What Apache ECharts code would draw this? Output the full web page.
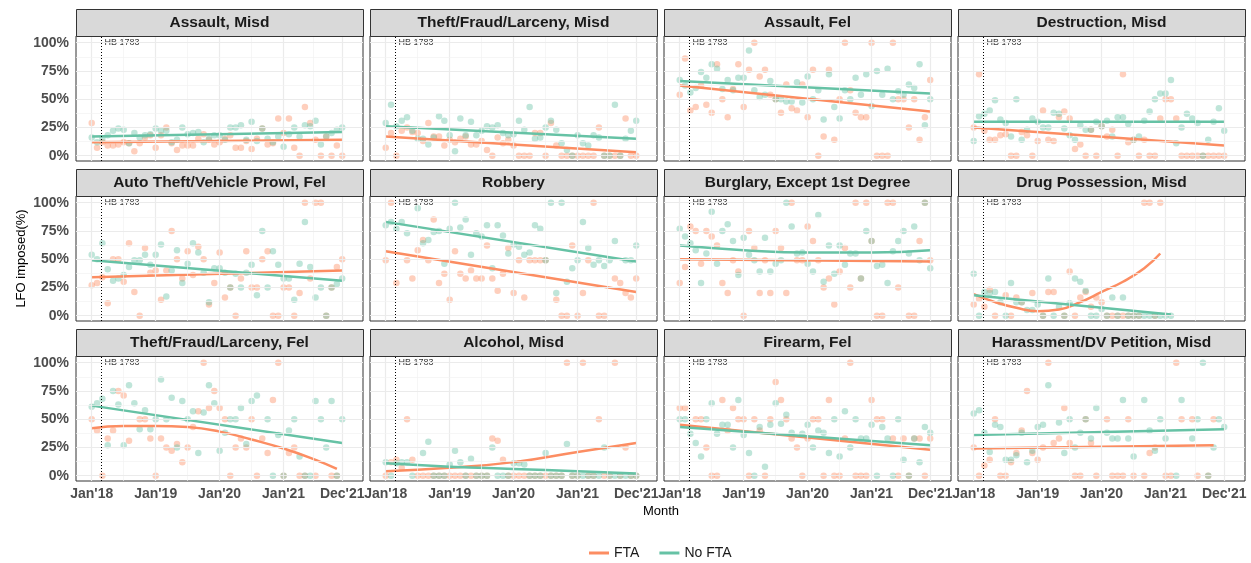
<!DOCTYPE html>
<html>
<head>
<meta charset="utf-8">
<script src="https://cdn.jsdelivr.net/npm/echarts@6/dist/echarts.min.js"></script>
<style>
  html, body { margin: 0; padding: 0; background: #fff; }
  #chart { width: 1251px; height: 563px; }
</style>
</head>
<body>
<div id="chart"></div>
<script>
// months are counted from Jan'18 (0) to Dec'21 (47)
var tickMonths = [0, 12, 24, 36, 47]
var tickLabels = ["Jan'18", "Jan'19", "Jan'20", "Jan'21", "Dec'21"]
var minorMonths = [6, 18, 30, 41.5]
var yTicks = [0, 25, 50, 75, 100]
var yMinor = [12.5, 37.5, 62.5, 87.5]
var hbMonth = 1.85

var panelTitles = ['Assault, Misd', 'Theft/Fraud/Larceny, Misd', 'Assault, Fel', 'Destruction, Misd',
  'Auto Theft/Vehicle Prowl, Fel', 'Robbery', 'Burglary, Except 1st Degree', 'Drug Possession, Misd',
  'Theft/Fraud/Larceny, Fel', 'Alcohol, Misd', 'Firearm, Fel', 'Harassment/DV Petition, Misd']

// monthly LFO share (%), null = no cases that month
var assaultMisdFta = [29,7,12,9,9,10,12,11,4,11,16,18,7,18,25,11,5,9,9,9,15,19,14,10,12,15,18,7,7,13,6,15,24,10,11,33,20,33,7,0,43,29,14,0,17,0,9,0]
var assaultMisdNoFta = [16,12,15,18,22,24,23,11,20,16,18,19,24,22,22,12,14,25,19,20,21,12,15,18,18,14,25,25,27,14,30,13,24,15,12,17,8,19,25,17,27,26,31,10,17,20,23,25]
var theftMisdFta = [7,20,0,22,25,21,20,13,29,17,17,9,14,12,15,17,10,10,13,5,0,16,11,14,9,0,0,0,20,20,0,29,9,0,0,0,0,0,0,0,25,0,0,0,0,33,0,0]
var theftMisdNoFta = [29,45,26,31,34,22,15,15,10,16,35,31,18,4,33,18,30,18,22,26,25,27,20,18,19,31,23,43,15,16,25,31,23,11,5,0,18,11,9,18,16,0,0,45,0,15,22,31]
var assaultFelFta = [54,86,40,43,62,45,38,81,50,34,59,81,43,76,100,70,76,54,50,38,63,42,40,63,34,76,0,17,76,14,50,100,58,38,34,34,100,0,0,0,100,50,50,25,50,14,34,67]
var assaultFelNoFta = [67,62,56,60,74,69,81,77,59,67,58,69,69,93,58,52,54,66,50,50,48,48,65,47,70,50,58,32,72,43,33,58,50,69,54,72,44,75,54,77,50,57,54,63,60,81,27,50]
var destructionFta = [25,72,22,14,14,18,19,0,0,21,18,0,13,40,14,13,34,39,33,6,10,0,23,0,26,17,23,0,72,12,14,0,14,0,0,33,50,50,33,0,0,0,0,0,0,0,0,0]
var destructionNoFta = [13,35,37,40,49,32,29,17,50,14,23,33,30,25,25,38,37,24,18,14,27,23,23,30,26,31,17,34,34,28,14,17,31,39,50,55,55,67,11,25,37,33,29,0,14,30,42,22]
var autoTheftFta = [27,29,34,11,50,50,30,64,21,0,60,38,40,14,40,75,50,33,57,36,61,50,10,29,56,16,25,0,33,57,25,25,50,57,0,0,25,25,0,20,100,33,100,100,0,25,43,50]
var autoTheftNoFta = [54,50,64,41,31,33,36,43,49,49,54,45,54,63,17,40,58,29,46,64,56,38,12,42,42,38,25,37,25,38,45,18,75,25,57,45,33,33,14,46,83,43,16,25,0,25,28,33]
var robberyFta = [49,100,29,null,49,33,58,67,49,85,29,37,14,57,37,33,40,33,33,62,33,22,37,60,20,49,16,49,49,49,49,null,14,0,0,62,0,20,49,100,0,0,null,33,29,20,16,33]
var robberyNoFta = [80,83,77,83,73,null,95,64,67,74,75,46,77,100,78,85,54,73,70,80,42,80,71,55,63,61,54,56,80,77,49,100,20,100,30,42,49,83,60,45,49,44,49,66,null,49,49,62]
var burglaryFta = [29,43,79,75,46,75,70,62,29,20,49,39,0,75,60,20,49,20,75,60,20,100,49,49,79,66,49,25,33,10,39,60,25,100,33,100,66,0,0,100,100,25,null,0,0,66,100,49]
var burglaryNoFta = [77,70,64,58,29,55,92,46,75,81,66,36,69,54,49,39,69,39,46,49,100,79,55,56,46,39,89,30,62,37,62,45,55,55,33,75,66,44,45,29,57,66,75,55,79,49,100,42]
var drugFta = [10,15,8,23,0,null,18,0,16,12,null,20,null,0,21,21,null,0,39,0,16,21,8,16,12,0,0,0,0,0,0,0,100,100,0,100,null,null,null,null,null,null,null,null,null,null,null,null]
var drugNoFta = [37,0,21,20,21,12,0,29,12,12,5,5,10,0,33,0,8,0,11,33,30,22,0,0,6,0,16,0,16,0,0,0,0,0,0,0,0,0,null,null,null,null,null,null,null,null,null,null]
var theftFelFta = [50,40,0,33,40,75,71,31,null,50,50,33,0,33,25,22,28,12,25,43,57,100,60,75,60,50,0,25,33,25,50,0,33,20,67,100,0,20,25,0,0,null,0,null,null,0,0,null]
var theftFelNoFta = [61,64,68,27,75,63,27,80,64,41,58,41,50,85,50,69,25,66,50,57,20,56,80,64,22,38,50,50,60,28,66,71,null,50,0,36,0,40,50,17,0,0,66,50,25,66,0,50]
var alcoholFta = [0,12,14,7,50,14,0,0,0,0,0,0,0,0,0,0,0,0,0,0,33,31,14,0,0,0,0,0,0,0,0,0,0,0,100,0,0,100,0,0,50,0,0,100,0,25,0,0]
var alcoholNoFta = [12,0,11,12,12,0,null,20,30,0,0,0,10,22,12,0,15,0,0,0,25,0,0,0,11,11,10,0,0,0,20,0,0,0,28,0,0,0,0,0,0,25,0,0,0,0,0,0]
var firearmFta = [60,60,null,50,50,25,0,0,67,40,60,50,50,0,50,40,0,50,83,67,50,33,25,0,33,50,50,0,67,0,0,33,100,0,0,0,67,50,50,null,33,0,33,0,33,33,0,33]
var firearmNoFta = [50,50,37,29,17,50,64,37,45,45,25,67,36,20,0,43,8,45,64,46,54,38,null,37,45,25,40,38,20,50,17,57,25,50,33,33,45,0,43,33,0,50,14,0,33,12,43,38]
var harassFta = [25,0,9,14,50,0,0,12,20,40,75,20,14,25,100,29,33,60,29,0,0,50,29,0,null,50,0,0,0,50,0,null,0,20,25,null,0,0,100,50,null,50,0,null,0,50,null,null]
var harassNoFta = [55,58,38,21,45,43,14,14,18,38,12,22,43,45,80,null,47,20,50,25,38,50,33,60,null,38,33,33,67,33,17,null,67,40,22,50,33,null,0,67,null,33,50,100,0,25,50,43]

// smoothed trend, [month, %]
var assaultMisdFtaFit = [[0, 12], [47, 14]]
var assaultMisdNoFtaFit = [[0, 17], [47, 21]]
var theftMisdFtaFit = [[0, 17], [47, 3]]
var theftMisdNoFtaFit = [[0, 26], [47, 15]]
var assaultFelFtaFit = [[0, 62], [47, 39]]
var assaultFelNoFtaFit = [[0, 66], [47, 55]]
var destructionFtaFit = [[0, 25], [47, 9]]
var destructionNoFtaFit = [[0, 30], [47, 30]]
var autoTheftFtaFit = [[0, 34], [47, 40]]
var autoTheftNoFtaFit = [[0, 49], [47, 31]]
var robberyFtaFit = [[0, 57], [47, 21]]
var robberyNoFtaFit = [[0, 83], [47, 48]]
var burglaryFtaFit = [[0, 50], [47, 48]]
var burglaryNoFtaFit = [[0, 62], [12, 58], [24, 56], [36, 56], [47, 58]]
var drugFtaFit = [[0, 19], [4, 12], [8, 7], [12, 4], [16, 5.5], [20, 12], [24, 21], [28, 30], [32, 42], [35, 55]]
var drugNoFtaFit = [[0, 18], [37, 1]]
var theftFelFtaFit = [[0, 42], [6, 44], [12, 44], [18, 43], [24, 39], [30, 32], [36, 24], [42, 14], [46, 6]]
var theftFelNoFtaFit = [[0, 62], [47, 29]]
var alcoholFtaFit = [[0, 4], [12, 7], [24, 12], [36, 21], [47, 29]]
var alcoholNoFtaFit = [[0, 11], [12, 8], [24, 6], [36, 4], [47, 2]]
var firearmFtaFit = [[0, 45], [47, 23]]
var firearmNoFtaFit = [[0, 43], [47, 27]]
var harassFtaFit = [[0, 24], [45, 27]]
var harassNoFtaFit = [[0, 36], [47, 41]]

var ftaSeries = [assaultMisdFta, theftMisdFta, assaultFelFta, destructionFta, autoTheftFta, robberyFta,
  burglaryFta, drugFta, theftFelFta, alcoholFta, firearmFta, harassFta]
var noFtaSeries = [assaultMisdNoFta, theftMisdNoFta, assaultFelNoFta, destructionNoFta, autoTheftNoFta, robberyNoFta,
  burglaryNoFta, drugNoFta, theftFelNoFta, alcoholNoFta, firearmNoFta, harassNoFta]
var ftaFits = [assaultMisdFtaFit, theftMisdFtaFit, assaultFelFtaFit, destructionFtaFit, autoTheftFtaFit, robberyFtaFit,
  burglaryFtaFit, drugFtaFit, theftFelFtaFit, alcoholFtaFit, firearmFtaFit, harassFtaFit]
var noFtaFits = [assaultMisdNoFtaFit, theftMisdNoFtaFit, assaultFelNoFtaFit, destructionNoFtaFit, autoTheftNoFtaFit, robberyNoFtaFit,
  burglaryNoFtaFit, drugNoFtaFit, theftFelNoFtaFit, alcoholNoFtaFit, firearmNoFtaFit, harassNoFtaFit]

var FTA_COLOR = '#FC8D62'
var NOFTA_COLOR = '#66C2A5'
var colLeft = [76, 370, 664, 958]
var rowTop = [36, 196, 356]
var panelW = 287
var panelH = 125
var stripH = 27

function toPoints (arr) {
  var out = []
  for (var m = 0; m < arr.length; m++) {
    if (arr[m] !== null) out.push([m, arr[m]])
  }
  return out
}

var chart = echarts.init(document.getElementById('chart'))
var grids = [], xAxes = [], yAxes = [], series = [], graphics = []

for (var i = 0; i < 12; i++) {
  var col = i % 4
  var row = Math.floor(i / 4)
  grids.push({
    left: colLeft[col], top: rowTop[row], width: panelW, height: panelH,
    show: true, backgroundColor: '#fff', borderColor: '#333', borderWidth: 1
  })
  xAxes.push({
    gridIndex: i, type: 'value', min: -2.95, max: 50.9,
    axisLine: { show: false },
    splitLine: { show: false },
    axisTick: { show: row === 2, customValues: tickMonths, length: 4, lineStyle: { color: '#333' } },
    axisLabel: {
      show: row === 2, customValues: tickMonths, margin: 6,
      color: '#4D4D4D', fontSize: 14, fontWeight: 'bold', fontFamily: 'Liberation Sans, Arial',
      formatter: function (v) { return tickLabels[tickMonths.indexOf(v)] }
    }
  })
  yAxes.push({
    gridIndex: i, type: 'value', min: -4.7, max: 105.9,
    axisLine: { show: false },
    splitLine: { show: false },
    axisTick: { show: col === 0, customValues: yTicks, length: 4, lineStyle: { color: '#333' } },
    axisLabel: {
      show: col === 0, customValues: yTicks, margin: 7,
      color: '#4D4D4D', fontSize: 14, fontWeight: 'bold', fontFamily: 'Liberation Sans, Arial',
      formatter: function (v) { return v + '%' }
    },
    name: (i === 4) ? 'LFO imposed(%)' : '',
    nameLocation: 'middle', nameGap: 48,
    nameTextStyle: { fontSize: 13, color: '#000', fontFamily: 'Liberation Sans, Arial' }
  })

  var gridLines = []
  tickMonths.forEach(function (m) { gridLines.push({ xAxis: m, lineStyle: { color: '#EBEBEB', width: 1.2, type: 'solid' } }) })
  minorMonths.forEach(function (m) { gridLines.push({ xAxis: m, lineStyle: { color: '#F2F2F2', width: 0.7, type: 'solid' } }) })
  yTicks.forEach(function (v) { gridLines.push({ yAxis: v, lineStyle: { color: '#EBEBEB', width: 1.2, type: 'solid' } }) })
  yMinor.forEach(function (v) { gridLines.push({ yAxis: v, lineStyle: { color: '#F2F2F2', width: 0.7, type: 'solid' } }) })
  gridLines.push({ xAxis: hbMonth, lineStyle: { color: '#000', width: 1, type: [1, 2] } })

  // HB 1783 label + background grid
  series.push({
    type: 'scatter', xAxisIndex: i, yAxisIndex: i, z: 1, silent: true,
    symbolSize: 0, data: [[hbMonth, 100]],
    label: { show: true, position: 'right', distance: 3, formatter: 'HB 1783', fontSize: 9, color: '#000', fontFamily: 'Liberation Sans, Arial' },
    markLine: { silent: true, symbol: ['none', 'none'], label: { show: false }, animation: false, data: gridLines }
  })
  series.push({
    name: 'FTA', type: 'scatter', xAxisIndex: i, yAxisIndex: i, z: 2, silent: true,
    symbolSize: 6.5, data: toPoints(ftaSeries[i]),
    itemStyle: { color: FTA_COLOR, opacity: 0.42 }
  })
  series.push({
    name: 'No FTA', type: 'scatter', xAxisIndex: i, yAxisIndex: i, z: 2, silent: true,
    symbolSize: 6.5, data: toPoints(noFtaSeries[i]),
    itemStyle: { color: NOFTA_COLOR, opacity: 0.42 }
  })
  series.push({
    name: 'FTA', type: 'line', xAxisIndex: i, yAxisIndex: i, z: 3, silent: true,
    data: ftaFits[i], smooth: true, showSymbol: false, symbol: 'none',
    lineStyle: { color: FTA_COLOR, width: 2.5 }, itemStyle: { color: FTA_COLOR }
  })
  series.push({
    name: 'No FTA', type: 'line', xAxisIndex: i, yAxisIndex: i, z: 3, silent: true,
    data: noFtaFits[i], smooth: true, showSymbol: false, symbol: 'none',
    lineStyle: { color: NOFTA_COLOR, width: 2.5 }, itemStyle: { color: NOFTA_COLOR }
  })

  // facet strip
  graphics.push({
    type: 'rect', left: colLeft[col], top: rowTop[row] - stripH, z: 10,
    shape: { width: panelW, height: stripH },
    style: { fill: '#D9D9D9', stroke: '#333', lineWidth: 1 }
  })
  graphics.push({
    type: 'text', z: 11,
    x: colLeft[col] + panelW / 2, y: rowTop[row] - stripH / 2,
    style: {
      text: panelTitles[i], fill: '#1A1A1A', font: 'bold 15.5px "Liberation Sans", Arial',
      textAlign: 'center', textVerticalAlign: 'middle'
    }
  })
}

graphics.push({
  type: 'text', x: 661, y: 511,
  style: { text: 'Month', fill: '#000', font: '13px "Liberation Sans", Arial', textAlign: 'center', textVerticalAlign: 'middle' }
})

chart.setOption({
  animation: false,
  grid: grids,
  xAxis: xAxes,
  yAxis: yAxes,
  series: series,
  graphic: graphics,
  legend: {
    top: 541, left: 584, itemGap: 20, itemWidth: 20, itemHeight: 3,
    textStyle: { fontSize: 14, color: '#1A1A1A', fontFamily: 'Liberation Sans, Arial' },
    data: [
      { name: 'FTA', icon: 'rect', itemStyle: { color: FTA_COLOR, opacity: 1 } },
      { name: 'No FTA', icon: 'rect', itemStyle: { color: NOFTA_COLOR, opacity: 1 } }
    ]
  }
})
</script>
</body>
</html>
